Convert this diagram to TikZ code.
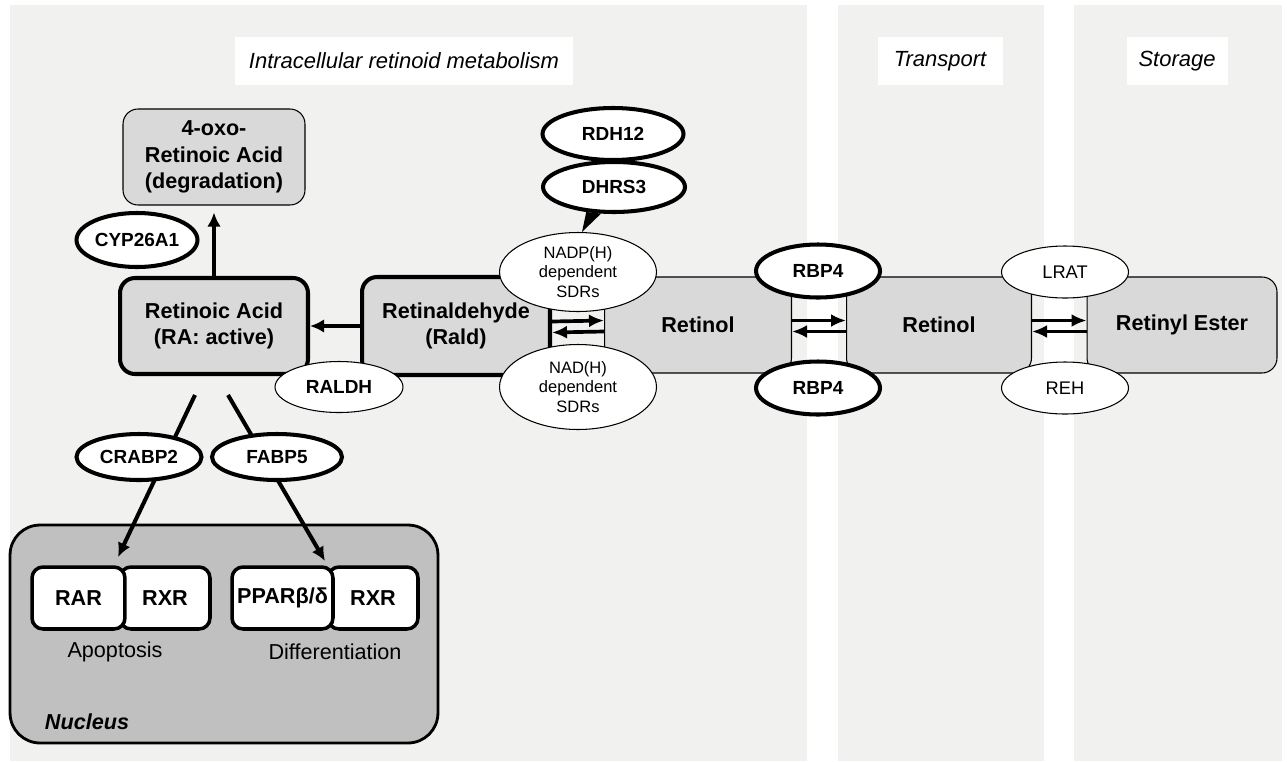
\documentclass[tikz,border=0pt]{standalone}
\usepackage{fontspec}
\setmainfont{Liberation Sans}
\usetikzlibrary{shapes.geometric,arrows.meta}
\definecolor{panelgray}{RGB}{241,241,239}
\definecolor{poolgray}{RGB}{217,217,217}
\definecolor{nucleusgray}{RGB}{192,192,192}

\begin{document}
\begin{tikzpicture}[x=0.02cm,y=-0.02cm,
    pool/.style={draw,fill=poolgray,rounded corners=0.3cm,line width=0.6pt,
        align=center,inner sep=0pt,minimum width=3.74cm,minimum height=1.92cm,
        font=\fontsize{12.3}{15}\selectfont\bfseries},
    active/.style={pool,line width=2.3pt},
    enzyme/.style={ellipse,draw,fill=white,line width=2.3pt,inner sep=0pt,
        font=\fontsize{10.8}{13}\selectfont\bfseries},
    cofactor/.style={ellipse,draw,fill=white,line width=0.6pt,inner sep=0pt,
        align=center,font=\fontsize{9.4}{11}\selectfont},
    partner/.style={draw,fill=white,rounded corners=0.22cm,line width=2pt,
        inner sep=0pt,minimum height=1.24cm,
        font=\fontsize{12.3}{15}\selectfont\bfseries},
    tag/.style={fill=white,inner sep=0pt,minimum height=0.96cm,
        font=\fontsize{12.5}{15}\selectfont\itshape},
    feed/.style={-{Latex[length=0.28cm,width=0.27cm]},line width=2.3pt},
    flux/.style={-{Latex[length=0.3cm,width=0.26cm]},line width=2.1pt},
  ]
    \useasboundingbox (0,0) rectangle (1287,761);
    \foreach \xa/\xb in {10/807,838/1044,1074/1282}
        \fill[panelgray] (\xa,5) rectangle (\xb,761);

    \node[tag,minimum width=6.76cm] (metabolism-tag) at (404,61)
        {Intracellular retinoid metabolism};
    \node[tag,minimum width=2.5cm] (transport-tag) at (940,61) {Transport};
    \node[tag,minimum width=2.02cm] (storage-tag) at (1177,61) {Storage};

    \node[pool] (retinol-a) at (698,325) {Retinol};
    \node[pool,minimum width=3.7cm] (retinol-b) at (939,325) {Retinol};
    \node[pool,minimum width=3.8cm] (ester) at (1182,325) {Retinyl Ester};
    \node[active,minimum width=3.76cm,minimum height=1.96cm] (rald)
        at (456,326) {Retinaldehyde\\(Rald)};
    \node[active,minimum width=3.76cm] (ra) at (214,326)
        {Retinoic Acid\\(RA: active)};
    \node[pool,minimum width=3.64cm] (oxo) at (214,157)
        {4-oxo-\\Retinoic Acid\\(degradation)};

    \foreach \from/\to in {rald/retinol-a,retinol-a/retinol-b,retinol-b/ester}{
        \draw[flux] ([yshift=0.09cm]\from.east) -- ([yshift=0.09cm]\to.west);
        \draw[flux] ([yshift=-0.13cm]\to.west) -- ([yshift=-0.13cm]\from.east);
    }
    \draw[feed] (rald.west) -- (ra.east);
    \draw[feed,shorten >=0.14cm] (ra.north) -- (oxo.south);

    \node[enzyme,minimum width=2.42cm,minimum height=1.08cm] (cyp26a1)
        at (137,240) {CYP26A1};
    \node[cofactor,font=\fontsize{10.8}{13}\selectfont\bfseries,
        minimum width=2.56cm,minimum height=1.02cm] (raldh) at (339,387) {RALDH};
    \node[cofactor,minimum width=3.14cm,minimum height=1.58cm] (nadp)
        at (578,272) {NADP(H)\\dependent\\SDRs};
    \node[cofactor,minimum width=3.14cm,minimum height=1.7cm] (nad)
        at (578,387) {NAD(H)\\dependent\\SDRs};
    \node[enzyme,minimum width=2.82cm,minimum height=1.04cm] (rdh12)
        at (613,134) {RDH12};
    \node[enzyme,minimum width=2.84cm,minimum height=1.0cm] (dhrs3)
        at (614,187) {DHRS3};
    \fill ([xshift=0.08cm]nadp.north) -- (dhrs3.222) -- (dhrs3.244) -- cycle;
    \node[enzyme,minimum width=2.48cm,minimum height=1.06cm] (rbp4-top)
        at (818,271) {RBP4};
    \node[enzyme,minimum width=2.48cm,minimum height=1.06cm] (rbp4-bottom)
        at (818,388) {RBP4};
    \node[cofactor,font=\fontsize{10.4}{13}\selectfont,
        minimum width=2.54cm,minimum height=1.04cm] (lrat) at (1065,272) {LRAT};
    \node[cofactor,font=\fontsize{10.4}{13}\selectfont,
        minimum width=2.54cm,minimum height=1.04cm] (reh) at (1065,388) {REH};

    \node[draw,fill=nucleusgray,line width=1.6pt,rounded corners=0.6cm,
        minimum width=8.56cm,minimum height=4.36cm] (nucleus) at (224,634) {};
    \node[font=\fontsize{12.3}{15}\selectfont\bfseries\itshape]
        (nucleus-label) at (87,722) {Nucleus};
    \node[partner,minimum width=1.8cm] (rxr-a) at (165,598) {RXR};
    \node[partner,minimum width=1.86cm] (rar) at (78.5,598) {RAR};
    \node[partner,minimum width=1.8cm] (rxr-b) at (373,598) {RXR};
    \node[partner,minimum width=2.02cm] (ppar) at (282.5,598) {PPARβ/δ};
    \node[font=\fontsize{12.3}{15}\selectfont] (apoptosis) at (115,652)
        {Apoptosis};
    \node[font=\fontsize{12.3}{15}\selectfont] (differentiation) at (335,652)
        {Differentiation};

    \coordinate (crabp-from) at (195,395);
    \coordinate (fabp-from) at (228,395);
    \coordinate (rar-site) at (118,557);
    \coordinate (ppar-site) at (325,561);
    \draw[feed] (crabp-from) -- (rar-site);
    \draw[feed] (fabp-from) -- (ppar-site);
    \node[enzyme,minimum width=2.5cm,minimum height=0.92cm] (crabp2)
        at (139,457) {CRABP2};
    \node[enzyme,minimum width=2.6cm,minimum height=0.92cm] (fabp5)
        at (277,457) {FABP5};
\end{tikzpicture}
\end{document}
